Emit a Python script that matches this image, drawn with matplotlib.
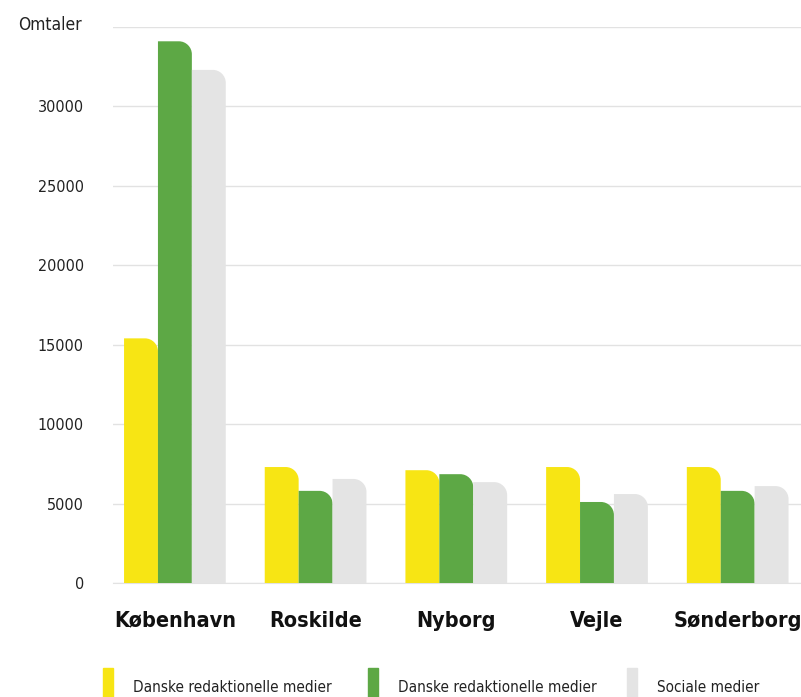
import matplotlib
matplotlib.use("Agg")
import matplotlib.pyplot as plt
from matplotlib.path import Path
from matplotlib.patches import PathPatch, Rectangle
import numpy as np

cities = ["København", "Roskilde", "Nyborg", "Vejle", "Sønderborg"]
danske_1 = [15400, 7300, 7100, 7300, 7300]
danske_2 = [34100, 5800, 6850, 5100, 5800]
sociale = [32300, 6550, 6350, 5600, 6100]

series_labels = ["Danske redaktionelle medier", "Danske redaktionelle medier", "Sociale medier"]
colors = ["#F7E514", "#5DA845", "#E4E4E4"]
yticks = [0, 5000, 10000, 15000, 20000, 25000, 30000, 35000]

plt.rcParams['font.family'] = ['DejaVu Sans']
plt.rcParams['font.stretch'] = 'condensed'

fig = plt.figure(figsize=(8.01, 6.97), dpi=100)
ax = fig.add_axes([113 / 801, 114 / 697, 1 - 113 / 801, 556 / 697])

x = np.arange(len(cities))
w = 0.241


def rounded_bar(rect, rx, ry):
    # bar with only the top-right corner rounded
    x0, y0 = rect.get_x(), rect.get_y()
    x1, y1 = x0 + rect.get_width(), y0 + rect.get_height()
    k = 0.55
    verts = [(x0, y0), (x0, y1), (x1 - rx, y1),
             (x1 - rx + k * rx, y1), (x1, y1 - ry + k * ry), (x1, y1 - ry),
             (x1, y0), (x0, y0)]
    codes = [Path.MOVETO, Path.LINETO, Path.LINETO,
             Path.CURVE4, Path.CURVE4, Path.CURVE4,
             Path.LINETO, Path.CLOSEPOLY]
    return PathPatch(Path(verts, codes), facecolor=rect.get_facecolor(),
                     edgecolor="none", zorder=3)


for i, vals in enumerate([danske_1, danske_2, sociale]):
    bars = ax.bar(x + (i - 1) * w, vals, w, color=colors[i], zorder=3)
    for b in bars:
        b.set_visible(False)
        ax.add_patch(rounded_bar(b, 13 / 141, 13 * 35000 / 556))

ax.set_xlim(-0.44, 4.45)
ax.set_ylim(0, 35000)
ax.set_yticks(yticks)
ax.set_yticklabels([str(t) if t < 35000 else "" for t in yticks], fontsize=11.5, color="#222222")
ax.yaxis.grid(True, color="#E2E2E2", linewidth=1, zorder=0)
ax.tick_params(axis="y", length=0, pad=21)
ax.tick_params(axis="x", length=0, pad=20)
ax.set_xticks(x)
ax.set_xticklabels(cities, fontsize=15.5, fontweight="bold", color="#111111")
for s in ["top", "right", "left"]:
    ax.spines[s].set_visible(False)
ax.spines["bottom"].set_color("#E2E2E2")

fig.text(18 / 801, 1 - 25 / 697, "Omtaler", fontsize=12.5, color="#222222", va="center")

legend_x = [103, 368, 627]
for lx, lab, c in zip(legend_x, series_labels, colors):
    fig.patches.append(Rectangle((lx / 801, 0), 10 / 801, 29 / 697, color=c,
                                 transform=fig.transFigure, figure=fig))
    fig.text((lx + 30) / 801, 1 - 687 / 697, lab, fontsize=11, color="#222222", va="center")

fig.savefig("out.png", dpi=100)
